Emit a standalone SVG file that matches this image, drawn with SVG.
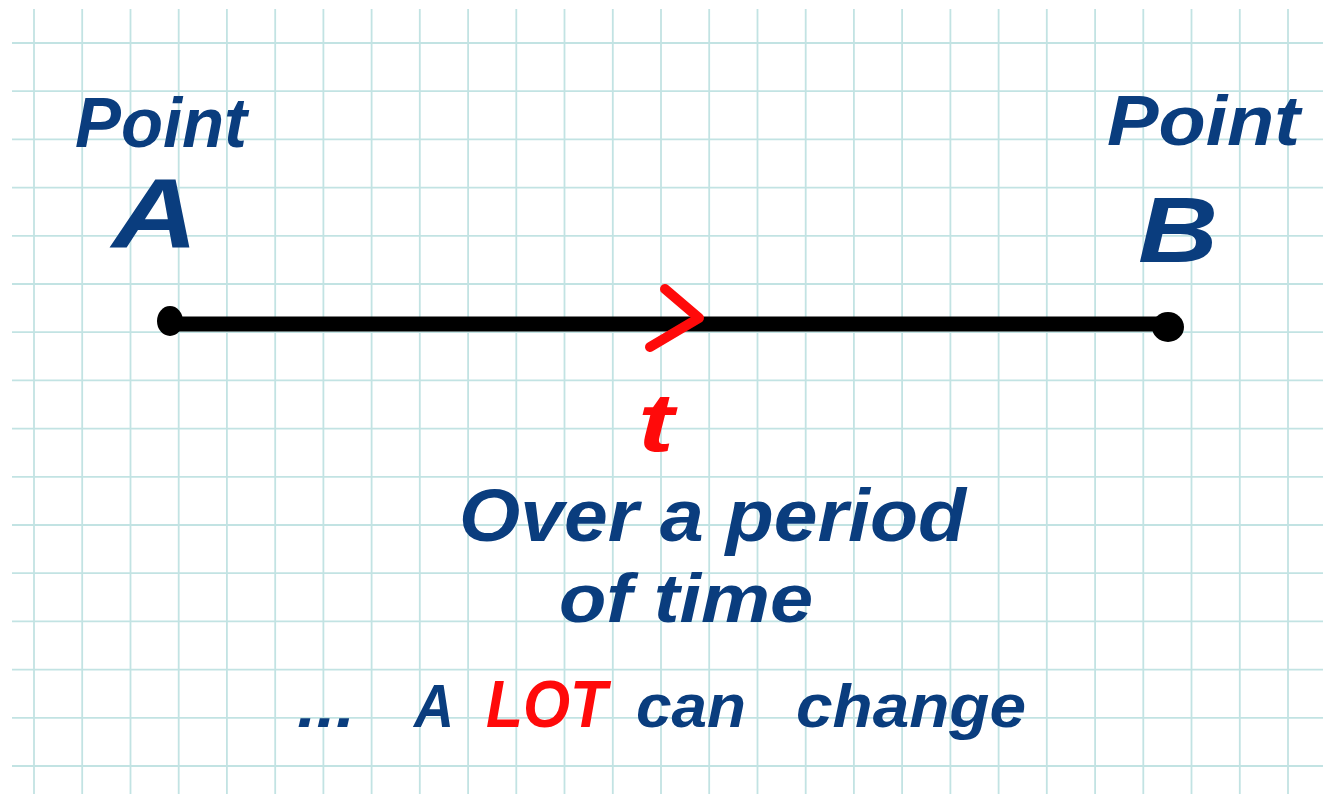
<svg xmlns="http://www.w3.org/2000/svg" width="1323" height="794" viewBox="0 0 1323 794">
  <defs>
    <style>
      .grid line { stroke: #c2e3e3; stroke-width: 1.8; }
      .blue { fill: #0a3d7e; font-family: "Liberation Sans", "DejaVu Sans", sans-serif; font-style: italic; font-weight: bold; }
      .red { fill: #ff0a0a; font-family: "Liberation Sans", "DejaVu Sans", sans-serif; font-style: italic; font-weight: bold; }
      .timeline { stroke: #000; stroke-width: 15; stroke-linecap: round; fill: none; }
      .dir { stroke: #ff0a0a; stroke-width: 10; stroke-linecap: round; stroke-linejoin: round; fill: none; }
    </style>
  </defs>
  <rect width="1323" height="794" fill="#ffffff"/>
  <g class="grid" id="grid">
    <line x1="34" y1="9" x2="34" y2="794"/>
    <line x1="82.2" y1="9" x2="82.2" y2="794"/>
    <line x1="130.5" y1="9" x2="130.5" y2="794"/>
    <line x1="178.7" y1="9" x2="178.7" y2="794"/>
    <line x1="226.9" y1="9" x2="226.9" y2="794"/>
    <line x1="275.2" y1="9" x2="275.2" y2="794"/>
    <line x1="323.4" y1="9" x2="323.4" y2="794"/>
    <line x1="371.6" y1="9" x2="371.6" y2="794"/>
    <line x1="419.8" y1="9" x2="419.8" y2="794"/>
    <line x1="468.1" y1="9" x2="468.1" y2="794"/>
    <line x1="516.3" y1="9" x2="516.3" y2="794"/>
    <line x1="564.5" y1="9" x2="564.5" y2="794"/>
    <line x1="612.8" y1="9" x2="612.8" y2="794"/>
    <line x1="661" y1="9" x2="661" y2="794"/>
    <line x1="709.2" y1="9" x2="709.2" y2="794"/>
    <line x1="757.5" y1="9" x2="757.5" y2="794"/>
    <line x1="805.7" y1="9" x2="805.7" y2="794"/>
    <line x1="853.9" y1="9" x2="853.9" y2="794"/>
    <line x1="902.1" y1="9" x2="902.1" y2="794"/>
    <line x1="950.4" y1="9" x2="950.4" y2="794"/>
    <line x1="998.6" y1="9" x2="998.6" y2="794"/>
    <line x1="1046.8" y1="9" x2="1046.8" y2="794"/>
    <line x1="1095.1" y1="9" x2="1095.1" y2="794"/>
    <line x1="1143.3" y1="9" x2="1143.3" y2="794"/>
    <line x1="1191.5" y1="9" x2="1191.5" y2="794"/>
    <line x1="1239.8" y1="9" x2="1239.8" y2="794"/>
    <line x1="1288" y1="9" x2="1288" y2="794"/>
    <line x1="12" y1="43" x2="1323" y2="43"/>
    <line x1="12" y1="91.2" x2="1323" y2="91.2"/>
    <line x1="12" y1="139.4" x2="1323" y2="139.4"/>
    <line x1="12" y1="187.6" x2="1323" y2="187.6"/>
    <line x1="12" y1="235.8" x2="1323" y2="235.8"/>
    <line x1="12" y1="284" x2="1323" y2="284"/>
    <line x1="12" y1="332.2" x2="1323" y2="332.2"/>
    <line x1="12" y1="380.4" x2="1323" y2="380.4"/>
    <line x1="12" y1="428.6" x2="1323" y2="428.6"/>
    <line x1="12" y1="476.8" x2="1323" y2="476.8"/>
    <line x1="12" y1="525" x2="1323" y2="525"/>
    <line x1="12" y1="573.2" x2="1323" y2="573.2"/>
    <line x1="12" y1="621.4" x2="1323" y2="621.4"/>
    <line x1="12" y1="669.6" x2="1323" y2="669.6"/>
    <line x1="12" y1="717.8" x2="1323" y2="717.8"/>
    <line x1="12" y1="766" x2="1323" y2="766"/>
  </g>
  <g id="connectors">
    <line class="timeline" x1="170" y1="324" x2="1170" y2="324"/>
    <ellipse cx="170" cy="321" rx="13" ry="15" fill="#000"/>
    <ellipse cx="1168" cy="327" rx="16" ry="15" fill="#000"/>
    <polyline class="dir" points="665,289 699,318 650,347"/>
  </g>
  <g id="pointA">
    <text class="blue" x="75" y="147" font-size="70" textLength="172" lengthAdjust="spacingAndGlyphs">Point</text>
    <text class="blue" x="112" y="247" font-size="98" textLength="86" lengthAdjust="spacingAndGlyphs">A</text>
  </g>
  <g id="pointB">
    <text class="blue" x="1107" y="145" font-size="70" textLength="193" lengthAdjust="spacingAndGlyphs">Point</text>
    <text class="blue" x="1138" y="262" font-size="92" textLength="80" lengthAdjust="spacingAndGlyphs">B</text>
  </g>
  <g id="time">
    <text class="red" x="638" y="451" font-size="84" textLength="36" lengthAdjust="spacingAndGlyphs">t</text>
  </g>
  <g id="caption">
    <text class="blue" x="459" y="541" font-size="74" textLength="507" lengthAdjust="spacingAndGlyphs">Over a period</text>
    <text class="blue" x="559" y="622" font-size="68" textLength="254" lengthAdjust="spacingAndGlyphs">of time</text>
    <text class="blue" x="297" y="727" font-size="60" textLength="58" lengthAdjust="spacingAndGlyphs">...</text>
    <text class="blue" x="414" y="727" font-size="62" textLength="40" lengthAdjust="spacingAndGlyphs">A</text>
    <text class="red" x="486" y="727" font-size="66" textLength="121" lengthAdjust="spacingAndGlyphs">LOT</text>
    <text class="blue" x="636" y="727" font-size="62" textLength="110" lengthAdjust="spacingAndGlyphs">can</text>
    <text class="blue" x="796" y="727" font-size="62" textLength="230" lengthAdjust="spacingAndGlyphs">change</text>
  </g>
</svg>
